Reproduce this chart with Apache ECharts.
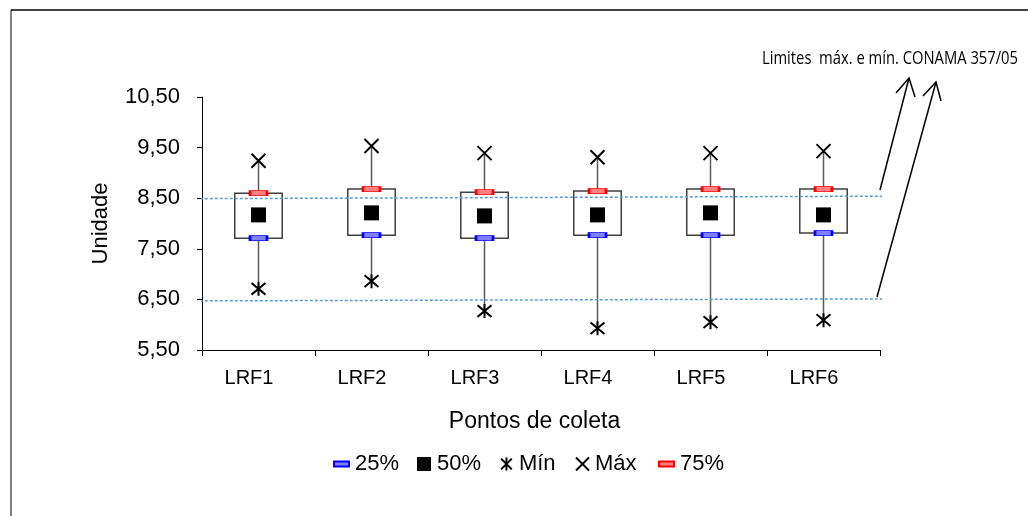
<!DOCTYPE html>
<html>
<head>
<meta charset="utf-8">
<script src="https://cdn.jsdelivr.net/npm/echarts@6/dist/echarts.min.js"></script>
<style>
html,body{margin:0;padding:0;background:#fff;}
#chart{width:1028px;height:516px;}
</style>
</head>
<body>
<div id="chart"></div>
<script>
// ---- data ----
const categories = ['LRF1', 'LRF2', 'LRF3', 'LRF4', 'LRF5', 'LRF6'];
const q1Values = [7.71, 7.77, 7.71, 7.77, 7.77, 7.81];      // 25%
const medianValues = [8.17, 8.21, 8.15, 8.17, 8.21, 8.17];  // 50%
const minValues = [6.71, 6.86, 6.27, 5.93, 6.05, 6.09];     // Mín
const maxValues = [9.24, 9.53, 9.39, 9.31, 9.39, 9.43];     // Máx
const q3Values = [8.60, 8.68, 8.62, 8.64, 8.68, 8.68];      // 75%
const upperLimit = [8.49, 8.54];   // limite máx. (start, end)
const lowerLimit = [6.47, 6.51];   // limite mín. (start, end)
const limitSpan = [-0.018, 1.003];
const yTicks = [5.5, 10.5, 1];     // min, max, interval
const annotationText = 'Limites  máx. e mín. CONAMA 357/05';

const FONT = '"Liberation Sans", Arial, sans-serif';
const chart = echarts.init(document.getElementById('chart'), null, {renderer: 'canvas'});

const boxData = categories.map((c, i) => [i, q1Values[i], q3Values[i], minValues[i], maxValues[i]]);

function renderBox(params, api) {
  const i = api.value(0);
  const pQ1 = api.coord([i, api.value(1)]);
  const pQ3 = api.coord([i, api.value(2)]);
  const pMin = api.coord([i, api.value(3)]);
  const pMax = api.coord([i, api.value(4)]);
  const bw = api.size([1, 0])[0] * 0.42;
  const wStyle = {stroke: '#595959', lineWidth: 1.5};
  return {
    type: 'group',
    children: [
      {type: 'line', shape: {x1: pMax[0], y1: pMax[1], x2: pQ3[0], y2: pQ3[1]}, style: wStyle},
      {type: 'line', shape: {x1: pQ1[0], y1: pQ1[1], x2: pMin[0], y2: pMin[1]}, style: wStyle},
      {type: 'rect', shape: {x: pQ3[0] - bw / 2, y: pQ3[1], width: bw, height: pQ1[1] - pQ3[1]},
        style: {fill: 'none', stroke: '#404040', lineWidth: 1.5}}
    ]
  };
}

const xPath = 'path://M0,0L10,10M10,0L0,10';
const starPath = 'path://M0,0L10,10M10,0L0,10M5,-1L5,11';

function mkLegend(name, left, w, h) {
  return {
    data: [name], left: left, top: 448, itemWidth: w, itemHeight: h, itemGap: 0,
    textStyle: {fontFamily: FONT, fontSize: 22, color: '#000', padding: [0, 0, 0, 1]},
    selectedMode: false
  };
}

// annotation text: fit to reference width
const annFont = '19px "Liberation Sans Narrow", "Open Sans", Lato, sans-serif';
const cv = document.createElement('canvas').getContext('2d');
cv.font = annFont;
const annW = cv.measureText(annotationText).width;
const annScale = 256 / annW;

const option = {
  backgroundColor: '#fff',
  animation: false,
  grid: {left: 202, right: 148, top: 97, bottom: 166, containLabel: false},
  xAxis: [{
    type: 'category', data: categories, boundaryGap: true,
    axisLine: {lineStyle: {color: '#000', width: 1}},
    axisTick: {show: true, length: 6, lineStyle: {color: '#000'}},
    axisLabel: {fontFamily: FONT, fontSize: 20, color: '#000', margin: 18, padding: [0, 19, 0, 0]},
    name: 'Pontos de coleta', nameLocation: 'middle', nameGap: 60,
    nameTextStyle: {fontFamily: FONT, fontSize: 23, color: '#000', padding: [0, 13, 0, 0]},
    splitLine: {show: false}
  }, {
    type: 'value', min: 0, max: 1, show: false
  }],
  yAxis: {
    type: 'value', min: yTicks[0], max: yTicks[1], interval: yTicks[2],
    axisLine: {show: true, lineStyle: {color: '#000', width: 1}},
    axisTick: {show: true, length: 5, lineStyle: {color: '#000'}},
    axisLabel: {fontFamily: FONT, fontSize: 22, color: '#000', margin: 22,
      formatter: v => v.toFixed(2).replace('.', ',')},
    splitLine: {show: false},
    name: 'Unidade', nameLocation: 'middle', nameGap: 90, nameRotate: 90,
    nameTextStyle: {fontFamily: FONT, fontSize: 22, color: '#000'}
  },
  legend: [
    mkLegend('25%', 328, 15, 5),
    mkLegend('50%', 412, 14, 14),
    mkLegend('Mín', 495, 13, 13),
    mkLegend('Máx', 570, 13, 13),
    mkLegend('75%', 653, 15, 5)
  ],
  series: [
    {type: 'custom', name: 'box', renderItem: renderBox, data: boxData, z: 2, silent: true},
    {type: 'line', xAxisIndex: 1, data: [[limitSpan[0], upperLimit[0]], [limitSpan[1], upperLimit[1]]],
      symbol: 'none', clip: false, z: 3, silent: true,
      lineStyle: {color: '#5B9BD5', width: 1.5, type: [3, 2]}},
    {type: 'line', xAxisIndex: 1, data: [[limitSpan[0], lowerLimit[0]], [limitSpan[1], lowerLimit[1]]],
      symbol: 'none', clip: false, z: 3, silent: true,
      lineStyle: {color: '#5B9BD5', width: 1.5, type: [3, 2]}},
    {type: 'scatter', name: '25%', data: q1Values, symbol: 'rect', symbolSize: [17, 5], z: 5,
      itemStyle: {color: '#7f7fff', borderColor: '#0000ff', borderWidth: 1.5, opacity: 1}},
    {type: 'scatter', name: '50%', data: medianValues, symbol: 'rect', symbolSize: 15, z: 5,
      itemStyle: {color: '#000', opacity: 1}},
    {type: 'scatter', name: 'Mín', data: minValues, symbol: starPath, symbolSize: 14, z: 5,
      itemStyle: {color: 'rgba(0,0,0,0)', borderColor: '#000', borderWidth: 2, opacity: 1}},
    {type: 'scatter', name: 'Máx', data: maxValues, symbol: xPath, symbolSize: 14, z: 5,
      itemStyle: {color: 'rgba(0,0,0,0)', borderColor: '#000', borderWidth: 2, opacity: 1}},
    {type: 'scatter', name: '75%', data: q3Values, symbol: 'rect', symbolSize: [17, 5], z: 5,
      itemStyle: {color: '#ff8080', borderColor: '#ff0000', borderWidth: 1.5, opacity: 1}}
  ],
  graphic: [
    {type: 'line', shape: {x1: 11, y1: 10, x2: 11, y2: 516}, style: {stroke: '#808080', lineWidth: 2}, silent: true},
    {type: 'line', shape: {x1: 11, y1: 10, x2: 1028, y2: 10}, style: {stroke: '#000', lineWidth: 1.5}, silent: true},
    {type: 'text', x: 762, y: 59, scaleX: annScale, originX: 0, originY: 0,
      style: {text: annotationText, font: annFont, fill: '#000', textVerticalAlign: 'middle', verticalAlign: 'middle'}, silent: true},
    {type: 'polyline', shape: {points: [[880, 190], [909, 78]]}, style: {stroke: '#000', lineWidth: 1.5, fill: 'none'}, silent: true},
    {type: 'polyline', shape: {points: [[896, 93], [909, 78], [915, 97]]}, style: {stroke: '#000', lineWidth: 1.5, fill: 'none'}, silent: true},
    {type: 'polyline', shape: {points: [[877, 297], [936, 82]]}, style: {stroke: '#000', lineWidth: 1.5, fill: 'none'}, silent: true},
    {type: 'polyline', shape: {points: [[923, 96], [936, 82], [941, 101]]}, style: {stroke: '#000', lineWidth: 1.5, fill: 'none'}, silent: true}
  ]
};
chart.setOption(option);
</script>
</body>
</html>
